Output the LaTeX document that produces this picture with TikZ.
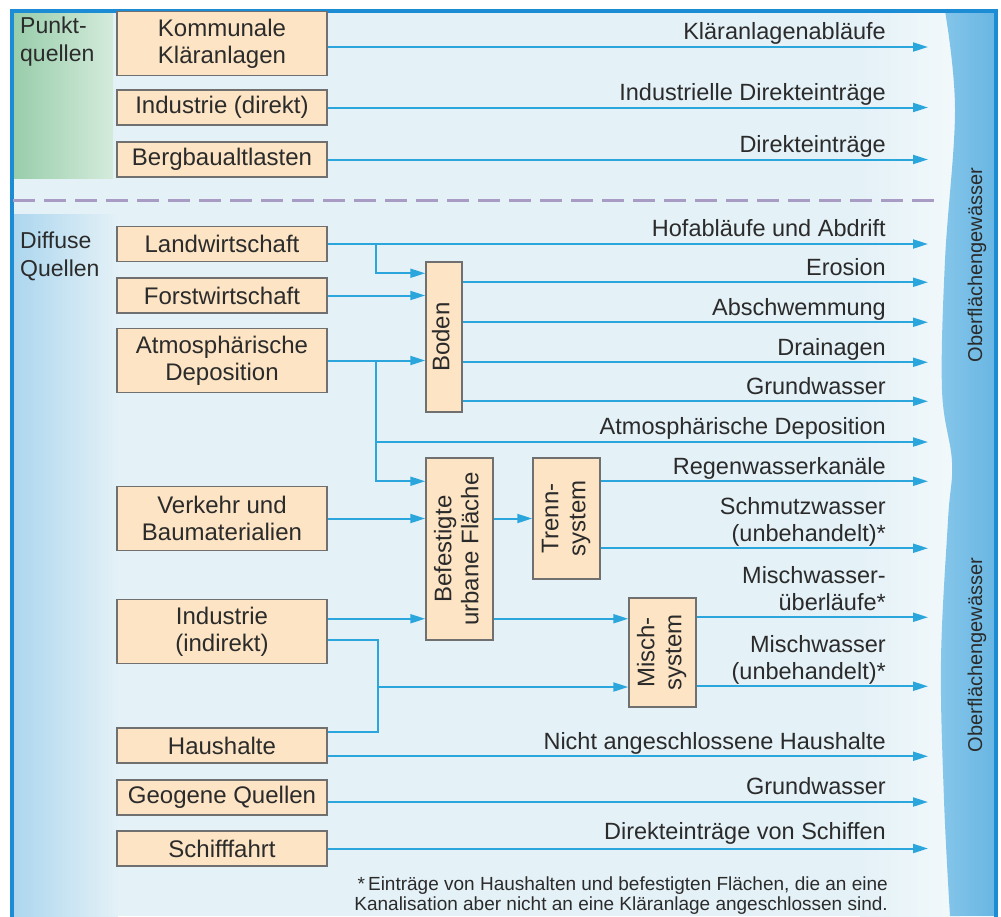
\documentclass[tikz,border=0pt]{standalone}
\usepackage{fontspec}
\setmainfont{Liberation Sans}
\usepackage{graphicx}
\usetikzlibrary{arrows.meta}

\definecolor{flowblue}{HTML}{2AA6DC}
\definecolor{boxfill}{HTML}{FCE4C4}
\definecolor{boxline}{HTML}{707070}
\definecolor{bgblue}{HTML}{E4F1F7}
\definecolor{bgwhite}{HTML}{F3F9FB}
\definecolor{framebl}{HTML}{1C8DD4}
\definecolor{sepline}{HTML}{A99CC4}
\definecolor{greenl}{HTML}{98CDAA}
\definecolor{greenr}{HTML}{D4EBDC}
\definecolor{stripl}{HTML}{ACD6EE}
\definecolor{bandl}{HTML}{86C6EA}
\definecolor{bandm}{HTML}{B2DBF1}
\definecolor{bandr}{HTML}{68B6E3}
\definecolor{txt}{HTML}{2B2B2B}

% rotated text inside the stage boxes
\newcommand{\uptext}[1]{\rotatebox{90}{\begin{tabular}{@{}c@{}}#1\end{tabular}}}

\tikzset{
  src/.style={draw=boxline, fill=boxfill, line width=1.5pt, minimum width=210pt,
    minimum height=35pt, inner sep=0pt, align=center, text=txt,
    font=\fontsize{24}{27}\selectfont},
  srctwo/.style={src, minimum height=64pt},
  stage/.style={draw=boxline, fill=boxfill, line width=1.5pt, inner sep=0pt,
    text=txt, font=\fontsize{24}{27}\selectfont},
  flow/.style={draw=flowblue, line width=2pt, -{Triangle[length=15pt,width=9pt]}},
  link/.style={draw=flowblue, line width=2pt},
  pathlabel/.style={anchor=south east, inner sep=0pt, align=right, text depth=5pt,
    text=txt, font=\fontsize{23.5}{27}\selectfont},
  side/.style={anchor=north west, inner sep=0pt, align=left, text=txt,
    font=\fontsize{23}{28}\selectfont},
  water/.style={rotate=90, inner sep=0pt, text=txt, font=\fontsize{20}{24}\selectfont},
  note/.style={anchor=north east, inner sep=0pt, align=right, text=txt,
    font=\fontsize{19}{19.5}\selectfont}
}

\begin{document}
\begin{tikzpicture}[x=1pt,y=-1pt]
\useasboundingbox (0,0) rectangle (1001,916);
\clip (0,0) rectangle (1001,916);

% background
\fill[white] (0,0) rectangle (1001,916);
\fill[bgblue] (12,11) rectangle (996,916);
\shade[left color=bgblue, right color=bgwhite] (860,11) rectangle (960,916);

% green strip (punktquellen)
\shade[left color=greenl, right color=greenr] (13,12) rectangle (113,178);
% blue strip (diffuse quellen)
\shade[left color=stripl, right color=bgblue] (13,214) rectangle (118,916);

% water band on the right
\shade[left color=bandl, middle color=bandm, right color=bandr]
  plot[smooth, tension=0.6] coordinates {(945,11) (955,110) (945,260) (942,390)
  (952,462) (948,520) (941,660) (944,800) (950,916)} -- (996,916) -- (996,11) -- cycle;
\node[water] (ow1) at (977,265) {Oberflächengewässer};
\node[water] (ow2) at (977,655) {Oberflächengewässer};

% frame
\draw[framebl, line width=3.5pt] (12,11) rectangle (996,940);

% separator
\draw[sepline, line width=3pt, dash pattern=on 22pt off 9pt] (13,200) -- (935,200);

% group names
\node[side] (pq) at (20,17) {Punkt-\\quellen};
\node[side] (dq) at (20,232) {Diffuse\\Quellen};

% sources
\node[srctwo] (kka) at (222,43.5) {Kommunale\\Kläranlagen};
\node[src] (ind) at (222,107.5) {Industrie (direkt)};
\node[src] (berg) at (222,159.5) {Bergbaualtlasten};

\node[src] (lw) at (222,244) {Landwirtschaft};
\node[src] (fw) at (222,295.5) {Forstwirtschaft};
\node[srctwo] (atm) at (222,360.5) {Atmosphärische\\Deposition};
\node[srctwo] (vb) at (222,518.5) {Verkehr und\\Baumaterialien};
\node[srctwo] (ii) at (222,631.5) {Industrie\\(indirekt)};
\node[src] (hh) at (222,745.5) {Haushalte};
\node[src] (geo) at (222,797.5) {Geogene Quellen};
\node[src] (sf) at (222,848.5) {Schifffahrt};

% stages
\node[stage, minimum width=36pt, minimum height=150pt] (boden) at (444,337) {\uptext{Boden}};
\node[stage, minimum width=67pt, minimum height=182pt] (bef) at (459.5,549) {\uptext{Befestigte\\urbane Fläche}};
\node[stage, minimum width=67pt, minimum height=121pt] (trenn) at (566.5,518.5) {\uptext{Trenn-\\system}};
\node[stage, minimum width=67pt, minimum height=109pt] (misch) at (662.5,652.5) {\uptext{Misch-\\system}};

% arrow tips column and junctions
\coordinate (rx) at (928,0);
\coordinate (ja) at (376,0);
\coordinate (ad) at (376,442);
\coordinate (mj) at (378,687);

% point sources
\coordinate (kka-o) at ([yshift=-3.5pt]kka.east);
\draw[flow] (kka-o) -- (kka-o -| rx);
\draw[flow] (ind) -- (ind -| rx);
\draw[flow] (berg) -- (berg -| rx);

% land use into boden
\draw[flow] (lw) -- (lw -| rx);
\coordinate (bi1) at ([yshift=-12pt]boden.north west);
\draw[flow] (lw -| ja) |- (bi1);
\draw[flow] (fw) -- (fw -| boden.west);
\draw[flow] (atm) -- (atm -| boden.west);

% out of boden
\foreach \dy/\i in {21/1, 61/2, 101/3, 140/4} {
  \coordinate (bo\i) at ([yshift=-\dy pt]boden.north east);
  \draw[flow] (bo\i) -- (bo\i -| rx);
}

% deposition split
\coordinate (bi2) at ([yshift=-24pt]bef.north west);
\draw[flow] (atm -| ad) |- (bi2);
\draw[flow] (ad) -- (ad -| rx);

% urban surfaces
\draw[flow] (vb) -- (vb -| bef.west);
\draw[flow] (bef.east |- trenn) -- (trenn);
\coordinate (to1) at ([yshift=-24pt]trenn.north east);
\coordinate (to2) at ([yshift=-91pt]trenn.north east);
\draw[flow] (to1) -- (to1 -| rx);
\draw[flow] (to2) -- (to2 -| rx);

% industry (indirect) and households
\coordinate (ii1) at ([yshift=-20pt]ii.north east);
\coordinate (ii2) at ([yshift=-41pt]ii.north east);
\coordinate (hh1) at ([yshift=-5pt]hh.north east);
\draw[flow] (ii1) -- (ii1 -| bef.west);
\draw[flow] (ii1 -| bef.east) -- (ii1 -| misch.west);
\draw[link] (ii2) -| (mj) |- (hh1);
\draw[flow] (mj) -- (mj -| misch.west);
\coordinate (mo1) at ([yshift=-20pt]misch.north east);
\coordinate (mo2) at ([yshift=-89pt]misch.north east);
\draw[flow] (mo1) -- (mo1 -| rx);
\draw[flow] (mo2) -- (mo2 -| rx);

% remaining direct paths
\coordinate (hh2) at ([yshift=-29pt]hh.north east);
\draw[flow] (hh2) -- (hh2 -| rx);
\coordinate (geo-o) at ([yshift=-4.5pt]geo.east);
\draw[flow] (geo-o) -- (geo-o -| rx);
\draw[flow] (sf) -- (sf -| rx);

% path names
\foreach \y/\t [count=\i] in {45/Kläranlagenabläufe, 106/Industrielle Direkteinträge,
  158/Direkteinträge, 242/Hofabläufe und Abdrift, 281/Erosion, 321/Abschwemmung,
  361/Drainagen, 400/Grundwasser, 440/Atmosphärische Deposition, 480/Regenwasserkanäle,
  547/{Schmutzwasser\\(unbehandelt)*}, 616/{Mischwasser-\\überläufe*},
  685/{Mischwasser\\(unbehandelt)*}, 755/Nicht angeschlossene Haushalte,
  800/Grundwasser, 845/Direkteinträge von Schiffen}
  \node[pathlabel] (lab\i) at (886,\y) {\t};

% footnote
\node[note] (fn) at (888,877) {*\,Einträge von Haushalten und befestigten Flächen, die an eine\\
  Kanalisation aber nicht an eine Kläranlage angeschlossen sind.};

\end{tikzpicture}
\end{document}
